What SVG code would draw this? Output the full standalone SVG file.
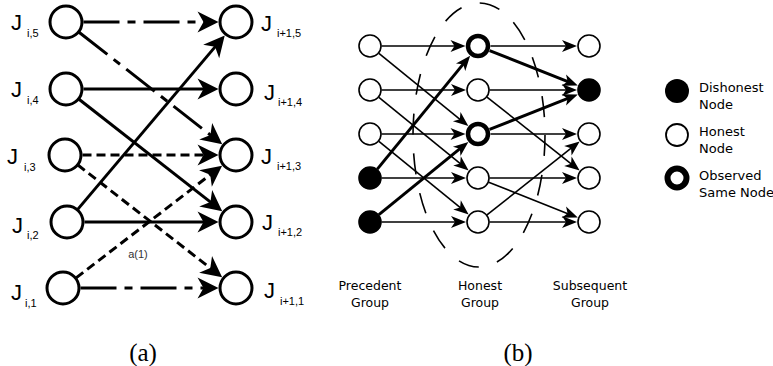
<svg xmlns="http://www.w3.org/2000/svg" width="773" height="366" viewBox="0 0 773 366">
  <style>
    .an { fill: #fff; stroke: #000; stroke-width: 3; }
    .ae { stroke: #000; stroke-width: 3; fill: none; marker-end: url(#headA); }
    .dash { stroke-dasharray: 9 5; }
    .dashdot { stroke-dasharray: 36 8 8 8; }
    .jbig { font-family: "Liberation Sans", Arial, sans-serif; font-size: 22px; fill: #000; }
    .jsub { font-family: "Liberation Sans", Arial, sans-serif; font-size: 11px; fill: #000; }
    .elabel { font-family: "Liberation Sans", Arial, sans-serif; font-size: 11px; fill: #333; }
    .bn { fill: #fff; stroke: #000; stroke-width: 1.6; }
    .bd { fill: #000; stroke: #000; stroke-width: 1.6; }
    .bo { fill: #fff; stroke: #000; stroke-width: 4.5; }
    .be { stroke: #000; stroke-width: 1.6; fill: none; marker-end: url(#headB); }
    .thick { stroke-width: 3; }
    .grp { fill: none; stroke: #000; stroke-width: 1.6; stroke-dasharray: 21 19; }
    .gl { font-family: "DejaVu Sans", sans-serif; font-size: 12.5px; fill: #000; text-anchor: middle; }
    .lg { font-family: "DejaVu Sans", sans-serif; font-size: 13px; fill: #000; }
    .cap { font-family: "Liberation Serif", "Times New Roman", serif; font-size: 25px; fill: #000; text-anchor: middle; }
  </style>
  <defs>
    <marker id="headA" viewBox="-8 -11 23 22" markerWidth="23" markerHeight="22" refX="0" refY="0" markerUnits="userSpaceOnUse" orient="auto">
      <path d="M14,0 L-7,-10.5 L-1,0 L-7,10.5 Z" fill="#000"/>
    </marker>
    <marker id="headB" viewBox="-6 -7 17 14" markerWidth="17" markerHeight="14" refX="0" refY="0" markerUnits="userSpaceOnUse" orient="auto">
      <path d="M10,0 L-5,-6 L-1,0 L-5,6 Z" fill="#000"/>
    </marker>
  </defs>

  <rect width="773" height="366" fill="#fff"/>

  <!-- ===== (a) job transitions ===== -->
  <g id="a-connectors">
    <line class="ae dashdot" x1="83.5" y1="22" x2="204.5" y2="22"/>
    <line class="ae dashdot" x1="79" y1="32.2" x2="211.2" y2="135.6"/>
    <line class="ae" x1="83.5" y1="89" x2="204.5" y2="89"/>
    <line class="ae" x1="79" y1="99.2" x2="211.2" y2="202.6"/>
    <line class="ae dash" x1="82.5" y1="155" x2="204.5" y2="155"/>
    <line class="ae dash" x1="77.6" y1="164.8" x2="211.1" y2="268.7"/>
    <line class="ae" x1="77.7" y1="209.4" x2="215.7" y2="46.1"/>
    <line class="ae" x1="84.5" y1="222" x2="204.5" y2="222"/>
    <line class="ae dash" x1="76.1" y1="277.9" x2="211" y2="174.2"/>
    <line class="ae dashdot" x1="80.5" y1="288" x2="204.5" y2="288"/>
    <text class="elabel" x="138" y="258" text-anchor="middle">a(1)</text>
  </g>

  <g id="J_i5"><circle class="an" cx="66" cy="22" r="16"/><text class="jbig" x="11" y="30">J</text><text class="jsub" x="27" y="37">i,5</text></g>
  <g id="J_i4"><circle class="an" cx="66" cy="89" r="16"/><text class="jbig" x="11" y="97">J</text><text class="jsub" x="27" y="104">i,4</text></g>
  <g id="J_i3"><circle class="an" cx="65" cy="155" r="16"/><text class="jbig" x="7" y="164">J</text><text class="jsub" x="24" y="171">i,3</text></g>
  <g id="J_i2"><circle class="an" cx="67" cy="222" r="16"/><text class="jbig" x="12" y="233">J</text><text class="jsub" x="27" y="239">i,2</text></g>
  <g id="J_i1"><circle class="an" cx="63" cy="288" r="16"/><text class="jbig" x="11" y="300">J</text><text class="jsub" x="25" y="307">i,1</text></g>

  <g id="J_n5"><circle class="an" cx="236" cy="22" r="16"/><text class="jbig" x="261" y="31">J</text><text class="jsub" x="277" y="37">i+1,5</text></g>
  <g id="J_n4"><circle class="an" cx="236" cy="89" r="16"/><text class="jbig" x="264" y="100">J</text><text class="jsub" x="278" y="106">i+1,4</text></g>
  <g id="J_n3"><circle class="an" cx="236" cy="155" r="16"/><text class="jbig" x="261" y="164">J</text><text class="jsub" x="277" y="170">i+1,3</text></g>
  <g id="J_n2"><circle class="an" cx="236" cy="222" r="16"/><text class="jbig" x="262" y="230">J</text><text class="jsub" x="278" y="236">i+1,2</text></g>
  <g id="J_n1"><circle class="an" cx="236" cy="288" r="16"/><text class="jbig" x="264" y="298">J</text><text class="jsub" x="280" y="305">i+1,1</text></g>

  <!-- ===== (b) honest group ===== -->
  <ellipse class="grp" cx="479" cy="135" rx="66" ry="132"/>

  <g id="b-connectors">
    <!-- precedent -> honest -->
    <line class="be" x1="381.5" y1="46" x2="455.5" y2="46"/>
    <line class="be" x1="378.9" y1="53.3" x2="460.6" y2="119.8"/>
    <line class="be" x1="381.5" y1="90" x2="456" y2="90"/>
    <line class="be" x1="378.9" y1="97.3" x2="460.9" y2="164.1"/>
    <line class="be" x1="381.5" y1="134" x2="455.5" y2="134"/>
    <line class="be" x1="378.9" y1="141.3" x2="460.9" y2="208.1"/>
    <line class="be" x1="381.5" y1="178" x2="456" y2="178"/>
    <line class="be thick" x1="377.3" y1="169.1" x2="463.8" y2="63.4"/>
    <line class="be" x1="381.5" y1="222" x2="456" y2="222"/>
    <line class="be thick" x1="378.9" y1="214.7" x2="460.6" y2="148.2"/>
    <!-- honest -> subsequent -->
    <line class="be" x1="490.5" y1="46" x2="567" y2="46"/>
    <line class="be thick" x1="489.6" y1="50.6" x2="568.5" y2="81.9"/>
    <line class="be" x1="489.5" y1="90" x2="567" y2="90"/>
    <line class="be" x1="487" y1="97.1" x2="571.8" y2="164.3"/>
    <line class="be" x1="490.5" y1="134" x2="567" y2="134"/>
    <line class="be thick" x1="489.6" y1="129.4" x2="568.5" y2="98.1"/>
    <line class="be" x1="489.5" y1="178" x2="567" y2="178"/>
    <line class="be" x1="488.7" y1="182.2" x2="568.5" y2="213.9"/>
    <line class="be" x1="489.5" y1="222" x2="567" y2="222"/>
    <line class="be" x1="487" y1="214.9" x2="571.8" y2="147.7"/>
  </g>

  <g id="p1"><circle class="bn" cx="370" cy="46" r="11"/></g>
  <g id="p2"><circle class="bn" cx="370" cy="90" r="11"/></g>
  <g id="p3"><circle class="bn" cx="370" cy="134" r="11"/></g>
  <g id="p4"><circle class="bd" cx="370" cy="178" r="11"/></g>
  <g id="p5"><circle class="bd" cx="370" cy="222" r="11"/></g>

  <g id="h1"><circle class="bo" cx="478" cy="46" r="10"/></g>
  <g id="h2"><circle class="bn" cx="478" cy="90" r="11"/></g>
  <g id="h3"><circle class="bo" cx="478" cy="134" r="10"/></g>
  <g id="h4"><circle class="bn" cx="478" cy="178" r="11"/></g>
  <g id="h5"><circle class="bn" cx="478" cy="222" r="11"/></g>

  <g id="s1"><circle class="bn" cx="589" cy="46" r="11"/></g>
  <g id="s2"><circle class="bd" cx="589" cy="90" r="11"/></g>
  <g id="s3"><circle class="bn" cx="589" cy="134" r="11"/></g>
  <g id="s4"><circle class="bn" cx="589" cy="178" r="11"/></g>
  <g id="s5"><circle class="bn" cx="589" cy="222" r="11"/></g>

  <g id="group-labels">
    <text class="gl" x="370" y="290">Precedent</text>
    <text class="gl" x="370" y="307">Group</text>
    <text class="gl" x="480" y="290">Honest</text>
    <text class="gl" x="480" y="307">Group</text>
    <text class="gl" x="590" y="290">Subsequent</text>
    <text class="gl" x="590" y="307">Group</text>
  </g>

  <g id="legend">
    <circle cx="677" cy="91" r="12" fill="#000"/>
    <text class="lg" x="699" y="92">Dishonest</text>
    <text class="lg" x="699" y="109">Node</text>
    <circle cx="677" cy="135" r="11" fill="#fff" stroke="#000" stroke-width="1.8"/>
    <text class="lg" x="699" y="136">Honest</text>
    <text class="lg" x="699" y="153">Node</text>
    <circle cx="677" cy="178" r="9.5" fill="#fff" stroke="#000" stroke-width="6"/>
    <text class="lg" x="699" y="180">Observed</text>
    <text class="lg" x="699" y="197">Same Node</text>
  </g>

  <text class="cap" x="143" y="361">(a)</text>
  <text class="cap" x="518" y="361">(b)</text>
</svg>
